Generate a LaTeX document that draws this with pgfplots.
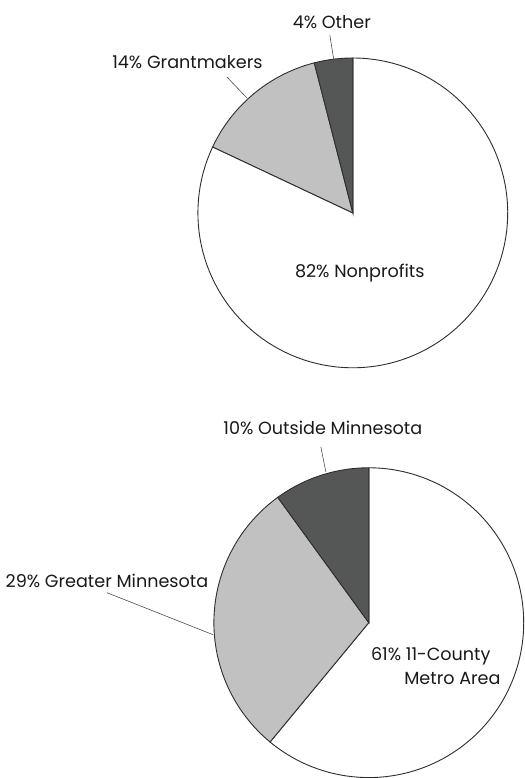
\documentclass[border=0pt]{standalone}
\usepackage{pgfplots}
\pgfplotsset{compat=1.18}
\usepackage{fontspec}
\setmainfont{Poppins}
\definecolor{darkg}{HTML}{555756}
\definecolor{lightg}{HTML}{C0C1C0}
\definecolor{edge}{HTML}{2E2E2E}
\tikzset{lbl/.style={font=\fontsize{17.6}{21}\selectfont, text=black!90, inner sep=0pt}}
% pie 1: Other, Grantmakers, Nonprofits (percent)
\def\pA{4}\def\pB{14}\def\pC{82}
% pie 2: Outside Minnesota, Greater Minnesota, Metro (percent)
\def\qA{10}\def\qB{29}\def\qC{61}
\begin{document}
\begin{tikzpicture}
\pgfmathsetmacro{\aA}{90+3.6*\pA}
\pgfmathsetmacro{\aB}{\aA+3.6*\pB}
\pgfmathsetmacro{\bA}{90+3.6*\qA}
\pgfmathsetmacro{\bB}{\bA+3.6*\qB}
\begin{axis}[
  width=522pt, height=778pt, scale only axis,
  xmin=0, xmax=522, ymin=0, ymax=778, y dir=reverse,
  hide axis, clip=false,
]
\addplot[draw=none] coordinates {(0,0) (522,778)};
% ---- top pie: centre (353,213), r=155
\addplot[fill=white, draw=edge, line width=0.9pt, domain=\aB:450, samples=120, variable=\t]
  ({353+155*cos(t)}, {213-155*sin(t)}) -- (axis cs:353,213) -- cycle;
\addplot[fill=lightg, draw=edge, line width=0.9pt, domain=\aA:\aB, samples=30, variable=\t]
  ({353+155*cos(t)}, {213-155*sin(t)}) -- (axis cs:353,213) -- cycle;
\addplot[fill=darkg, draw=edge, line width=0.9pt, domain=90:\aA, samples=10, variable=\t]
  ({353+155*cos(t)}, {213-155*sin(t)}) -- (axis cs:353,213) -- cycle;
% ---- bottom pie: centre (369,623), r=155
\addplot[fill=white, draw=edge, line width=0.9pt, domain=\bB:450, samples=120, variable=\t]
  ({369+155*cos(t)}, {623-155*sin(t)}) -- (axis cs:369,623) -- cycle;
\addplot[fill=lightg, draw=edge, line width=0.9pt, domain=\bA:\bB, samples=50, variable=\t]
  ({369+155*cos(t)}, {623-155*sin(t)}) -- (axis cs:369,623) -- cycle;
\addplot[fill=darkg, draw=edge, line width=0.9pt, domain=90:\bA, samples=20, variable=\t]
  ({369+155*cos(t)}, {623-155*sin(t)}) -- (axis cs:369,623) -- cycle;
% leader lines
\addplot[draw=black!70, line width=0.6pt] coordinates {(330,35) (334,60)};
\addplot[draw=black!70, line width=0.6pt] coordinates {(227,77) (247,98)};
\addplot[draw=black!70, line width=0.6pt] coordinates {(321,447) (326,472)};
\addplot[draw=black!70, line width=0.6pt] coordinates {(107,593) (213,635)};
% labels
\node[lbl] at (axis cs:332,22) {4\% Other};
\node[lbl] at (axis cs:187.5,62) {14\% Grantmakers};
\node[lbl] at (axis cs:360,273) {82\% Nonprofits};
\node[lbl] at (axis cs:323,428) {10\% Outside Minnesota};
\node[lbl] at (axis cs:107,581) {29\% Greater Minnesota};
\node[lbl, anchor=east] at (axis cs:491,657) {61\% 11-County};
\node[lbl, anchor=east] at (axis cs:501,679) {Metro Area};
\end{axis}
\end{tikzpicture}
\end{document}
